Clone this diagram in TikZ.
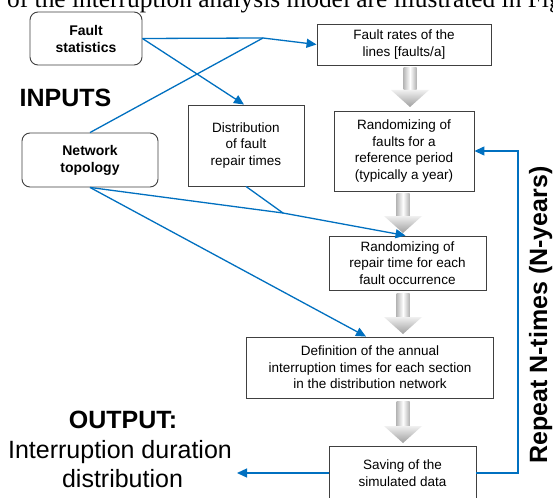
\documentclass[tikz,border=0pt]{standalone}
\usepackage{fontspec}
\setmainfont{Liberation Sans}
\newfontfamily\hdrserif{Liberation Serif}
\usetikzlibrary{arrows.meta,calc}
\definecolor{linkblue}{RGB}{0,112,192}
\newcommand\blkarrow[4]{% name, x, ytop, ybottom
  \shade[left color=gray!55, right color=gray!60, middle color=white]
    (#2-6.5,#3) rectangle (#2+6.5,#4-17);
  \shade[top color=gray!12, bottom color=gray!75]
    (#2-19,#4-17) -- (#2+19,#4-17) -- (#2,#4) -- cycle;
  \coordinate (#1) at (#2,#3);
}
\begin{document}
\begin{tikzpicture}[x=1pt,y=-1pt,
  box/.style={draw=black!75, line width=0.9pt, align=center, inner sep=0pt,
    font=\fontsize{13.5}{16.5}\selectfont},
  rbox/.style={box, rounded corners=8pt, font=\bfseries\fontsize{14}{17}\selectfont},
  link/.style={draw=linkblue, line width=1.3pt},
  arr/.style={link, -{Triangle[length=10pt,width=9pt]}},
  big/.style={font=\bfseries\fontsize{25}{30}\selectfont, anchor=base, inner sep=0pt},
  plain/.style={font=\fontsize{25}{30}\selectfont, anchor=base, inner sep=0pt},
]
\useasboundingbox[fill=white] (0,0) rectangle (553,497);

% cut-off header line of the page
\node[font=\hdrserif\fontsize{25.4}{30}\selectfont, anchor=base west, inner sep=0pt]
  (hdr) at (7,8) {of the interruption analysis model are illustrated in Fig};

% input boxes
\node[rbox, minimum width=112pt, minimum height=53pt] (fs) at (86,38.5) {Fault\\statistics};
\node[rbox, minimum width=136pt, minimum height=54pt] (nt) at (90,160) {Network\\topology};
\node[box, minimum width=116pt, minimum height=81pt] (dist) at (246,145.5) {Distribution\\of fault\\repair times};

% process boxes
\node[box, minimum width=174pt, minimum height=41pt] (fr) at (404,44.5) {Fault rates of the\\lines [faults/a]};
\node[box, minimum width=140pt, minimum height=80pt] (rf) at (404,151) {Randomizing of\\faults for a\\reference period\\(typically a year)};
\node[box, minimum width=157pt, minimum height=54pt] (rep) at (407.5,263) {Randomizing of\\repair time for each\\fault occurrence};
\node[box, minimum width=247pt, minimum height=61pt] (def) at (370,367.5) {Definition of the annual\\interruption times for each section\\in the distribution network};
\node[box, minimum width=147pt, minimum height=54pt] (sav) at (402.5,473) {Saving of the\\simulated data};

% gray block arrows
\blkarrow{ba1}{410}{68}{107}
\blkarrow{ba2}{403}{193}{233}
\blkarrow{ba3}{403}{293}{334}
\blkarrow{ba4}{403}{401}{443}

% labels
\node[big] (inputs) at (65.5,107) {INPUTS};
\node[big] (out1) at (123,428) {OUTPUT:};
\node[plain] (out2) at (120,458) {Interruption duration};
\node[plain] (out3) at (122.5,487) {distribution};
\node[big, rotate=90] (repeat) at (547,315) {Repeat N-times (N-years)};

% connectors
\coordinate (j1) at (263,38);
\coordinate (j2) at (283,213);
\coordinate (outtip) at (237,473);
\coordinate (loopx) at (518,0);

\draw[link] (fs.east) -- (j1);
\draw[link] (nt.north) -- (j1);
\draw[arr] (j1) -- (fr.west);
\draw[arr] (fs.east) -- ($(dist.north)+(-2,0)$);
\draw[link] (nt.south) -- (j2);
\draw[link] (dist.south) -- (j2);
\draw[arr] (j2) -- ($(rep.north)+(-2,0)$);
\draw[arr] (nt.south) -- ($(def.north)+(-4,0)$);
\draw[arr] (sav.west) -- (outtip);
\draw[arr] (sav.east) -- (sav.east -| loopx) |- (rf.east);
\end{tikzpicture}
\end{document}
